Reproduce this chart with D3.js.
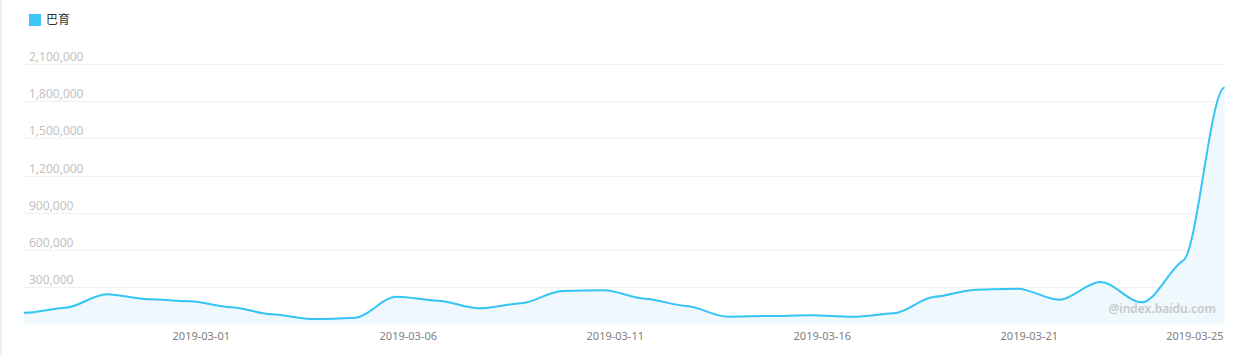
<!DOCTYPE html>
<html>
<head>
<meta charset="utf-8">
<script src="https://cdn.jsdelivr.net/npm/d3@7"></script>
<style>
  html, body { margin: 0; padding: 0; background: #fff; }
  svg { display: block; }
</style>
</head>
<body>
<svg id="chart" width="1246" height="355"></svg>
<script>
const seriesName = "巴育";
const startDate = "2019-02-24";
const values = [
  95000, 135000, 244000, 203000, 187000, 139000, 82000, 44000, 55000, 224000,
  192000, 131000, 171000, 270000, 276000, 208000, 149000, 63000, 69000, 74000,
  63000, 90000, 224000, 281000, 289000, 200000, 343000, 179000, 515000, 1910000
];
const xTickLabels = ["2019-03-01", "2019-03-06", "2019-03-11", "2019-03-16", "2019-03-21", "2019-03-25"];
const yTicks = [300000, 600000, 900000, 1200000, 1500000, 1800000, 2100000];

// Soft Hermite curve: damped tangents, flat at extrema and ends
function SoftCurve(context) { this._context = context; }
SoftCurve.prototype = {
  areaStart() { this._line = 0; },
  areaEnd() { this._line = NaN; },
  lineStart() { this._pts = []; },
  point(x, y) { this._pts.push([+x, +y]); },
  lineEnd() {
    const p = this._pts, n = p.length, c = this._context, a = 0.22;
    if (n) {
      if (this._line) c.lineTo(p[0][0], p[0][1]); else c.moveTo(p[0][0], p[0][1]);
      const m = p.map((q, i) => {
        if (i === 0 || i === n - 1) return 0;
        const s0 = p[i][1] - p[i - 1][1], s1 = p[i + 1][1] - p[i][1];
        if (s0 * s1 <= 0) return 0;
        return a * (p[i + 1][1] - p[i - 1][1]) / (p[i + 1][0] - p[i - 1][0]);
      });
      for (let i = 0; i < n - 1; i++) {
        const h = (p[i + 1][0] - p[i][0]) / 3;
        c.bezierCurveTo(p[i][0] + h, p[i][1] + m[i] * h,
                        p[i + 1][0] - h, p[i + 1][1] - m[i + 1] * h,
                        p[i + 1][0], p[i + 1][1]);
      }
    }
    if (this._line || (this._line !== 0 && n === 1)) c.closePath();
    this._line = 1 - this._line;
  }
};
const softCurve = ctx => new SoftCurve(ctx);

const parse = d3.timeParse("%Y-%m-%d");
const start = parse(startDate);
const data = values.map((v, i) => ({ date: d3.timeDay.offset(start, i), value: v }));

const svg = d3.select("#chart");
const mLeft = 24, mRight = 1224.6, mTop = 64, mBottom = 324.5;

const x = d3.scaleTime().domain(d3.extent(data, d => d.date)).range([mLeft, mRight]);
const y = d3.scaleLinear().domain([0, 2100000]).range([mBottom, mTop]);

// left border strip
svg.append("rect").attr("x", 0).attr("y", 0).attr("width", 2).attr("height", 355).attr("fill", "#eeeeee");

// gridlines
svg.append("g").selectAll("line").data(yTicks).join("line")
  .attr("x1", mLeft).attr("x2", mRight)
  .attr("y1", d => Math.round(y(d)) + 0.5).attr("y2", d => Math.round(y(d)) + 0.5)
  .attr("stroke", "#f0f0f0").attr("stroke-width", 1);

// y labels
svg.append("g").selectAll("text").data(yTicks).join("text")
  .attr("x", 29).attr("y", d => y(d) - 3)
  .attr("font-family", "'Noto Sans', sans-serif").attr("font-size", 12)
  .attr("fill", "#c2c2c2")
  .text(d => d3.format(",")(d));

// area
const area = d3.area().x(d => x(d.date)).y0(mBottom).y1(d => y(d.value)).curve(softCurve);
svg.append("path").datum(data).attr("d", area).attr("fill", "#eff8fc");

// watermark
svg.append("text").attr("x", 1216).attr("y", 313).attr("text-anchor", "end")
  .attr("font-family", "'Noto Sans', sans-serif").attr("font-size", 12).attr("font-weight", 600)
  .attr("fill", "#c8c8c8").text("@index.baidu.com");

// line
const line = d3.line().x(d => x(d.date)).y(d => y(d.value)).curve(softCurve);
svg.append("path").datum(data).attr("d", line).attr("fill", "none")
  .attr("stroke", "#35c5f5").attr("stroke-width", 2);

// x labels
svg.append("g").selectAll("text").data(xTickLabels).join("text")
  .attr("x", d => x(parse(d)) - 1).attr("y", 340)
  .attr("text-anchor", "end")
  .attr("font-family", "'Noto Sans', sans-serif").attr("font-size", 11)
  .attr("fill", "#808080")
  .text(d => d);

// legend
svg.append("rect").attr("x", 29).attr("y", 14).attr("width", 12).attr("height", 12).attr("fill", "#3ec7f5");
svg.append("text").attr("x", 46).attr("y", 24)
  .attr("font-family", "'Noto Sans CJK SC', sans-serif").attr("font-size", 12)
  .attr("fill", "#333").text(seriesName);
</script>
</body>
</html>
